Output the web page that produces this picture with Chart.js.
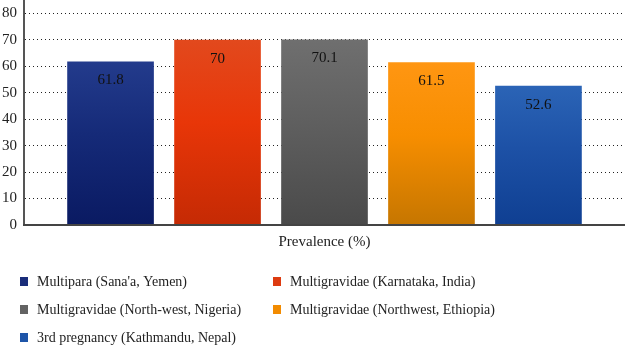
<!DOCTYPE html>
<html>
<head>
<meta charset="utf-8">
<script src="https://cdn.jsdelivr.net/npm/chart.js@4"></script>
<style>
	html, body { margin: 0; padding: 0; background: #fff; }
	#wrap { position: relative; width: 625px; height: 348px; }
</style>
</head>
<body>
<div id="wrap"><canvas id="chart-prevalence"></canvas></div>
<script>
// Chart data
const categories = ["Prevalence (%)"];
const seriesNames = [
	"Multipara (Sana'a, Yemen)",
	"Multigravidae (Karnataka, India)",
	"Multigravidae (North-west, Nigeria)",
	"Multigravidae (Northwest, Ethiopia)",
	"3rd pregnancy (Kathmandu, Nepal)",
];
const seriesValues = [61.8, 70, 70.1, 61.5, 52.6];
const yTicks = [0, 10, 20, 30, 40, 50, 60, 70, 80];

// top / middle / bottom colours of each bar
const barColors = [
	["#233b8c", "#152a78", "#0a1a62"],
	["#e2491d", "#e83608", "#c52a04"],
	["#6f6f6f", "#5f5f5f", "#4a4a4a"],
	["#ff9612", "#f78e00", "#c67600"],
	["#2b64b6", "#1d51a6", "#0f3f92"],
];
const legendColors = ["#1a2d7a", "#dd3b10", "#636363", "#f28b00", "#1e55a8"];

const FONT = "'Liberation Serif', 'DejaVu Serif', serif";

const gradientFor = (i) => (context) => {
	const chart = context.chart;
	const { ctx, chartArea, scales } = chart;
	if (!chartArea) return barColors[i][1];
	const top = scales.y.getPixelForValue(seriesValues[i]);
	const g = ctx.createLinearGradient(0, top, 0, chartArea.bottom);
	g.addColorStop(0, barColors[i][0]);
	g.addColorStop(0.45, barColors[i][1]);
	g.addColorStop(1, barColors[i][2]);
	return g;
};

// value labels inside the bars
const valueLabels = {
	id: "valueLabels",
	afterDatasetsDraw(chart) {
		const { ctx } = chart;
		ctx.save();
		ctx.font = "15px " + FONT;
		ctx.fillStyle = "#111";
		ctx.textAlign = "center";
		ctx.textBaseline = "middle";
		chart.data.datasets.forEach((ds, i) => {
			chart.getDatasetMeta(i).data.forEach((bar, j) => {
				ctx.fillText(String(ds.data[j]), bar.x, bar.y + 19);
			});
		});
		ctx.restore();
	},
};

// two-column legend under the chart
const gridLegend = {
	id: "gridLegend",
	afterDraw(chart) {
		const { ctx } = chart;
		ctx.save();
		ctx.font = "14px " + FONT;
		ctx.textBaseline = "middle";
		chart.data.datasets.forEach((ds, i) => {
			const col = i % 2;
			const row = Math.floor(i / 2);
			const x = col === 0 ? 20 : 273;
			const y = 282 + row * 28;
			ctx.fillStyle = legendColors[i];
			ctx.fillRect(x, y - 5, 8, 9);
			ctx.fillStyle = "#222";
			ctx.fillText(ds.label, x + 17, y);
		});
		ctx.restore();
	},
};

const CHART_DATA = {
	labels: categories,
	datasets: seriesNames.map((name, i) => ({
		label: name,
		data: [seriesValues[i]],
		backgroundColor: gradientFor(i),
		borderWidth: 0,
		categoryPercentage: 0.89,
		barPercentage: 0.81,
	})),
};

const CHART_CONFIG = {
	type: "bar",
	data: CHART_DATA,
	options: {
		responsive: true,
		maintainAspectRatio: false,
		animation: false,
		layout: {
			padding: { left: 0, right: 0, top: 0, bottom: 89 },
		},
		plugins: {
			legend: { display: false },
			title: { display: false },
			tooltip: { enabled: false },
		},
		scales: {
			x: {
				border: { display: true, color: "#444", width: 2, z: 1 },
				grid: { display: false, drawTicks: false },
				ticks: {
					color: "#222",
					font: { family: FONT, size: 15 },
					padding: 8,
				},
			},
			y: {
				min: 0,
				max: 85,
				afterBuildTicks: (axis) => {
					axis.ticks = yTicks.map((v) => ({ value: v }));
				},
				afterFit: (axis) => {
					axis.width = 24;
					// axis runs right up to the top edge
					axis.paddingTop = 0;
					axis.paddingBottom = 0;
				},
				// in v4 border.dash styles the grid lines
				border: { display: true, color: "#555", width: 2, dash: [1, 3] },
				grid: {
					color: "#222",
					lineWidth: 1,
					drawTicks: false,
				},
				ticks: {
					color: "#222",
					font: { family: FONT, size: 15 },
					padding: 7,
				},
			},
		},
	},
	plugins: [valueLabels, gridLegend],
};

const el = document.getElementById("chart-prevalence");
if (el) {
	new Chart(el, CHART_CONFIG);
}
</script>
</body>
</html>
